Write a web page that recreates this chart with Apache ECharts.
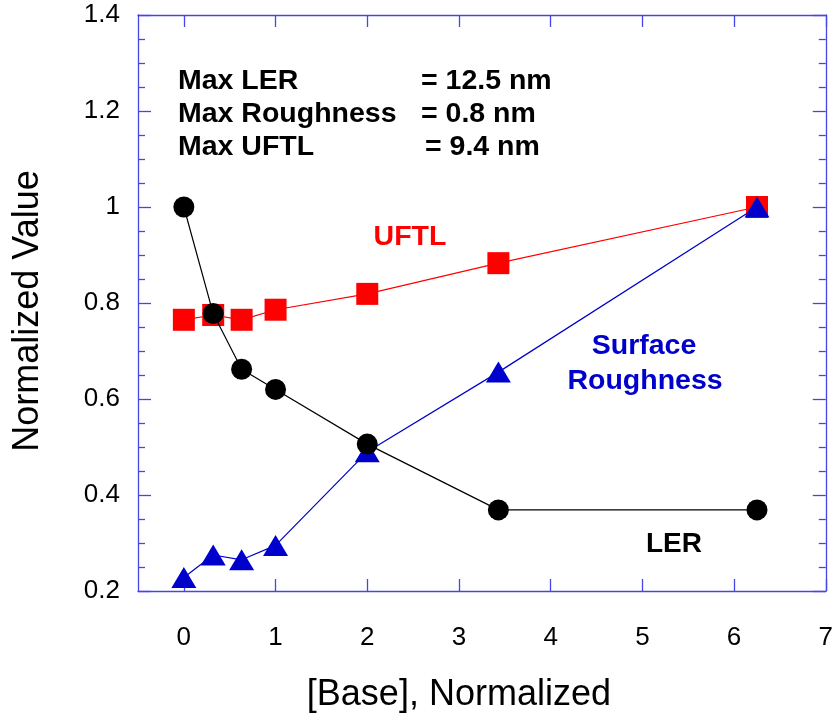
<!DOCTYPE html>
<html>
<head>
<meta charset="utf-8">
<script src="https://cdn.jsdelivr.net/npm/echarts@6/dist/echarts.min.js"></script>
<style>
  html, body { margin: 0; padding: 0; background: #ffffff; }
  #chart { width: 836px; height: 718px; }
</style>
</head>
<body>
<div id="chart"></div>
<script>
// Normalized base concentration (x) and the three normalized responses
const baseConc  = [0, 0.32, 0.63, 1.0, 2.0, 3.43, 6.25];
const lerVals   = [1.0, 0.778, 0.662, 0.62, 0.506, 0.369, 0.369];
const uftlVals  = [0.765, 0.775, 0.765, 0.786, 0.819, 0.883, 1.0];
const roughVals = [0.228, 0.275, 0.265, 0.295, 0.49, 0.656, 1.0];

// Axis ranges and tick positions
const xRange = { min: -0.5, max: 7 };
const xTickValues = [0, 1, 2, 3, 4, 5, 6, 7];
const yTicks = { min: 0.2, max: 1.4, interval: 0.2 };

const FONT = 'Liberation Sans, Arial, Helvetica, sans-serif';
const AXIS_BLUE = '#4646e6';
const RED = '#ff0000';
const BLUE = '#0000cc';

function pairs(xs, ys) { return xs.map((x, i) => [x, ys[i]]); }

const chart = echarts.init(document.getElementById('chart'), null, { renderer: 'canvas' });

const baseAxis = {
  type: 'value',
  axisLine: { show: true, onZero: false, lineStyle: { color: AXIS_BLUE, width: 1.3 } },
  splitLine: { show: false }
};

const xTickStyle = { show: true, inside: true, length: 12, customValues: xTickValues, lineStyle: { color: AXIS_BLUE, width: 1.3 } };

chart.setOption({
  backgroundColor: '#ffffff',
  animation: false,
  grid: { left: 138, right: 9, top: 15, bottom: 127 },
  xAxis: [
    Object.assign({}, baseAxis, {
      position: 'bottom',
      min: xRange.min, max: xRange.max,
      axisTick: xTickStyle,
      axisLabel: {
        margin: 34, fontSize: 26, color: '#000', fontFamily: FONT,
        customValues: xTickValues,
        formatter: v => String(v)
      },
      name: '[Base], Normalized',
      nameLocation: 'middle',
      nameGap: 86,
      nameTextStyle: { fontSize: 36, color: '#000', fontFamily: FONT, padding: [0, 46, 0, 0] }
    }),
    Object.assign({}, baseAxis, {
      position: 'top',
      min: xRange.min, max: xRange.max,
      axisTick: xTickStyle,
      axisLabel: { show: false }
    })
  ],
  yAxis: [
    Object.assign({}, baseAxis, {
      position: 'left',
      min: yTicks.min, max: yTicks.max, interval: yTicks.interval,
      axisTick: { show: true, inside: true, length: 13, lineStyle: { color: AXIS_BLUE, width: 1.3 } },
      minorTick: { show: true, splitNumber: 4, length: 7, lineStyle: { color: AXIS_BLUE, width: 1.3 } },
      axisLabel: {
        margin: 18, fontSize: 26, color: '#000', fontFamily: FONT,
        padding: [8, 0, 0, 0],
        formatter: v => String(Math.round(v * 10) / 10)
      },
      name: 'Normalized Value',
      nameLocation: 'middle',
      nameGap: 92,
      nameTextStyle: { fontSize: 36, color: '#000', fontFamily: FONT, padding: [0, 16, 0, 0] }
    }),
    Object.assign({}, baseAxis, {
      position: 'right',
      min: yTicks.min, max: yTicks.max, interval: yTicks.interval,
      axisTick: { show: true, inside: true, length: 13, lineStyle: { color: AXIS_BLUE, width: 1.3 } },
      minorTick: { show: true, splitNumber: 4, length: 7, lineStyle: { color: AXIS_BLUE, width: 1.3 } },
      axisLabel: { show: false }
    })
  ],
  series: [
    {
      name: 'UFTL', type: 'line', data: pairs(baseConc, uftlVals),
      symbol: 'rect', symbolSize: 22,
      itemStyle: { color: RED },
      lineStyle: { color: RED, width: 1.2 },
      z: 2
    },
    {
      name: 'Surface Roughness', type: 'line', data: pairs(baseConc, roughVals),
      symbol: 'triangle', symbolSize: [25, 21],
      itemStyle: { color: BLUE },
      lineStyle: { color: BLUE, width: 1.2 },
      z: 3
    },
    {
      name: 'LER', type: 'line', data: pairs(baseConc, lerVals),
      symbol: 'circle', symbolSize: 21,
      itemStyle: { color: '#000' },
      lineStyle: { color: '#000', width: 1.2 },
      z: 4
    }
  ],
  graphic: [
    { type: 'text', left: 178, top: 67, style: { text: 'Max LER', font: 'bold 28.5px ' + FONT, fill: '#000', textVerticalAlign: 'middle' } },
    { type: 'text', left: 178, top: 100, style: { text: 'Max Roughness', font: 'bold 28.5px ' + FONT, fill: '#000', textVerticalAlign: 'middle' } },
    { type: 'text', left: 178, top: 133, style: { text: 'Max UFTL', font: 'bold 28.5px ' + FONT, fill: '#000', textVerticalAlign: 'middle' } },
    { type: 'text', left: 421, top: 67, style: { text: '= 12.5 nm', font: 'bold 28.5px ' + FONT, fill: '#000', textVerticalAlign: 'middle' } },
    { type: 'text', left: 421, top: 100, style: { text: '= 0.8 nm', font: 'bold 28.5px ' + FONT, fill: '#000', textVerticalAlign: 'middle' } },
    { type: 'text', left: 425, top: 133, style: { text: '= 9.4 nm', font: 'bold 28.5px ' + FONT, fill: '#000', textVerticalAlign: 'middle' } },
    { type: 'text', x: 410, y: 237, style: { text: 'UFTL', font: 'bold 28.5px ' + FONT, fill: RED, textAlign: 'center', textVerticalAlign: 'middle' } },
    { type: 'text', x: 644, y: 346, style: { text: 'Surface', font: 'bold 28.5px ' + FONT, fill: BLUE, textAlign: 'center', textVerticalAlign: 'middle' } },
    { type: 'text', x: 645, y: 381, style: { text: 'Roughness', font: 'bold 28.5px ' + FONT, fill: BLUE, textAlign: 'center', textVerticalAlign: 'middle' } },
    { type: 'text', x: 674, y: 544, style: { text: 'LER', font: 'bold 28px ' + FONT, fill: '#000', textAlign: 'center', textVerticalAlign: 'middle' } }
  ]
});
</script>
</body>
</html>
